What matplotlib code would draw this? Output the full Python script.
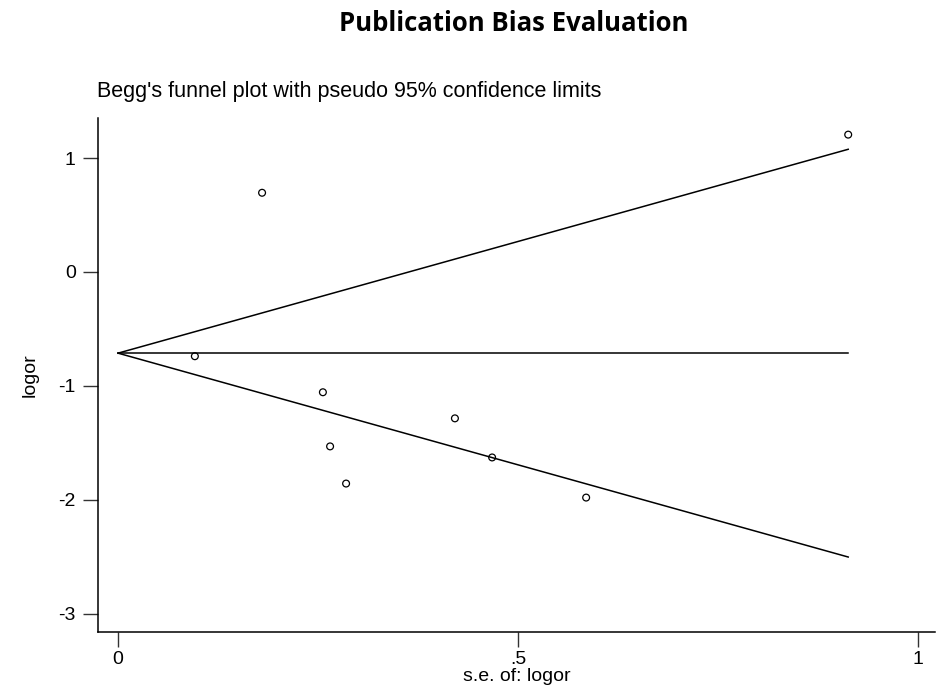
import numpy as np
import matplotlib.pyplot as plt

# study standard errors and log odds ratios
se = [0.9125, 0.180, 0.096, 0.256, 0.265, 0.285, 0.421, 0.4675, 0.585]
logor = [1.205, 0.695, -0.739, -1.055, -1.53, -1.856, -1.284, -1.627, -1.979]
pooled = -0.712

se = np.array(se)
logor = np.array(logor)
s = np.array([0, se.max()])

plt.rcParams['font.family'] = ['Liberation Sans', 'DejaVu Sans']

fig = plt.figure(figsize=(9.4, 6.9), dpi=100)
ax = fig.add_axes([0.1043, 0.0841, 0.8904, 0.7449])

ax.plot(s, pooled + 1.96 * s, color='black', lw=1.1)
ax.plot(s, pooled - 1.96 * s, color='black', lw=1.1)
ax.plot(s, [pooled, pooled], color='black', lw=1.1)
ax.scatter(se, logor, s=24, facecolors='none', edgecolors='black', linewidths=0.9, zorder=3)

ax.set_xlim(-0.025, 1.021)
ax.set_ylim(-3.158, 1.351)
ax.set_xticks([0, 0.5, 1])
ax.set_xticklabels(['0', '.5', '1'])
ax.set_yticks([1, 0, -1, -2, -3])
ax.set_yticklabels(['1', '0', '-1', '-2', '-3'])
ax.tick_params(direction='out', length=11, width=1, labelsize=14, colors='#333333', labelcolor='black')
ax.tick_params(axis='y', pad=5)
ax.tick_params(axis='x', pad=3)

for sp in ['top', 'right']:
    ax.spines[sp].set_visible(False)
for sp in ['left', 'bottom']:
    ax.spines[sp].set_linewidth(1.1)

ax.set_xlabel('s.e. of: logor', fontsize=14, labelpad=0)
ax.set_ylabel('logor', fontsize=14, labelpad=14)

fig.text(0.103, 0.86, "Begg's funnel plot with pseudo 95% confidence limits", fontsize=15.5)
fig.text(0.546, 0.966, 'Publication Bias Evaluation', fontsize=18.5, fontweight='bold',
         ha='center', va='center', family=['Open Sans', 'DejaVu Sans'])

fig.savefig('out.png', dpi=100)
